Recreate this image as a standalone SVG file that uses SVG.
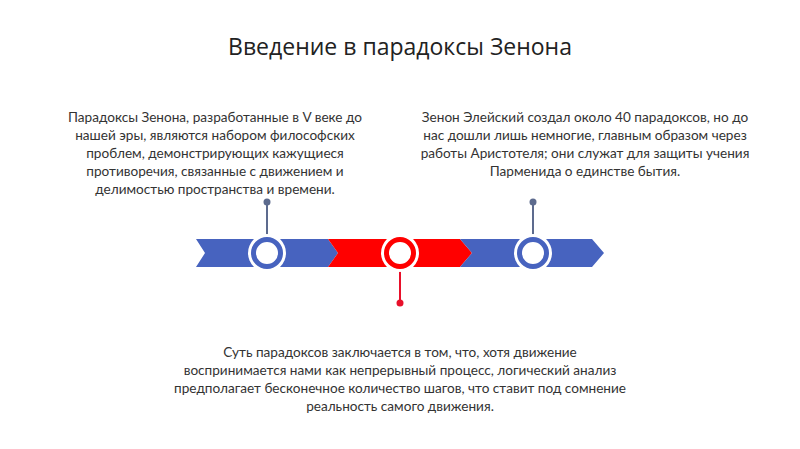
<svg xmlns="http://www.w3.org/2000/svg" width="800" height="449" viewBox="0 0 800 449">
<style>
.t{font-family:Lato,"Open Sans","Liberation Sans",sans-serif;font-size:13.6px;fill:#333;text-anchor:middle}
.title{font-family:"Open Sans",Lato,"Liberation Sans",sans-serif;font-size:23px;fill:#222;text-anchor:middle}
.blue{fill:#4763bf}
.red{fill:#ff0000}
.ring{fill:#fff;stroke-width:5}
.pinb{stroke:#5d6b8e;stroke-width:2}
</style>
<rect width="800" height="449" fill="#fff"/>
<text class="title" x="400" y="55">Введение в парадоксы Зенона</text>
<g id="connectors">
<line class="pinb" x1="267" y1="202" x2="267" y2="236"/>
<circle cx="267" cy="202" r="3.5" fill="#5d6b8e"/>
<line class="pinb" x1="533" y1="202" x2="533" y2="236"/>
<circle cx="533" cy="202" r="3.5" fill="#5d6b8e"/>
<line x1="400" y1="270" x2="400" y2="303" stroke="#e8102a" stroke-width="2"/>
<circle cx="400" cy="303" r="3.5" fill="#e8102a"/>
</g>
<g id="timeline">
<polygon class="blue" points="196,239 328,239 338,253 328,267 196,267 205,253"/>
<polygon class="red" points="328,239 460,239 472,253 460,267 328,267 338,253"/>
<polygon class="blue" points="460,239 592,239 604,253 592,267 460,267 472,253"/>
</g>
<g id="node1">
<circle cx="267" cy="253" r="19" fill="#fff"/>
<circle class="ring" cx="267" cy="253" r="13.5" stroke="#4763bf"/>
<text class="t" x="215" y="122">Парадоксы Зенона, разработанные в V веке до</text>
<text class="t" x="215" y="140">нашей эры, являются набором философских</text>
<text class="t" x="215" y="158">проблем, демонстрирующих кажущиеся</text>
<text class="t" x="215" y="176">противоречия, связанные с движением и</text>
<text class="t" x="215" y="194">делимостью пространства и времени.</text>
</g>
<g id="node2">
<circle cx="400" cy="253" r="19" fill="#fff"/>
<circle class="ring" cx="400" cy="253" r="13.5" stroke="#ff0000"/>
<text class="t" x="400" y="357">Суть парадоксов заключается в том, что, хотя движение</text>
<text class="t" x="400" y="375">воспринимается нами как непрерывный процесс, логический анализ</text>
<text class="t" x="400" y="393">предполагает бесконечное количество шагов, что ставит под сомнение</text>
<text class="t" x="400" y="411">реальность самого движения.</text>
</g>
<g id="node3">
<circle cx="533" cy="253" r="19" fill="#fff"/>
<circle class="ring" cx="533" cy="253" r="13.5" stroke="#4763bf"/>
<text class="t" x="585" y="122">Зенон Элейский создал около 40 парадоксов, но до</text>
<text class="t" x="585" y="140">нас дошли лишь немногие, главным образом через</text>
<text class="t" x="585" y="158">работы Аристотеля; они служат для защиты учения</text>
<text class="t" x="585" y="176">Парменида о единстве бытия.</text>
</g>
</svg>
